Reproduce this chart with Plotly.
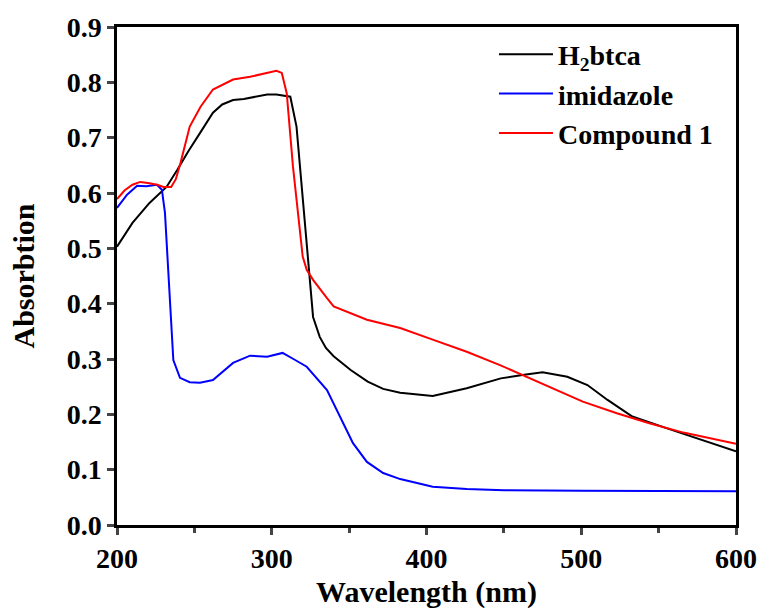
import plotly.graph_objects as go

# H2btca (black)
wl_h2btca = [200, 210, 221, 232, 239, 246, 254, 262, 268, 275, 282, 290, 297, 303, 309, 312, 316, 320, 323.5,
             326.7, 331, 335, 340, 351, 362, 372, 383, 404, 426, 448, 462, 475, 491, 504, 517, 533, 555, 577, 600]
abs_h2btca = [0.503, 0.546, 0.582, 0.611, 0.642, 0.675, 0.71, 0.745, 0.76, 0.768, 0.77, 0.775, 0.778, 0.778, 0.775,
              0.774, 0.72, 0.588, 0.467, 0.376, 0.34, 0.32, 0.305, 0.28, 0.259, 0.246, 0.239, 0.233, 0.247, 0.265,
              0.271, 0.276, 0.268, 0.253, 0.226, 0.196, 0.175, 0.154, 0.133]

# imidazole (blue)
wl_imid = [200, 206.5, 213, 219, 225.8, 229, 231, 233, 234.2, 236.4, 240.7, 247, 253.6, 262, 275, 286, 297, 307,
           314, 322.6, 335.7, 344, 352.5, 361.5, 372, 383, 404, 426, 450, 500, 550, 600]
abs_imid = [0.573, 0.597, 0.613, 0.612, 0.615, 0.606, 0.564, 0.467, 0.39, 0.298, 0.266, 0.258, 0.257, 0.262, 0.293,
            0.306, 0.304, 0.311, 0.30, 0.286, 0.244, 0.196, 0.148, 0.114, 0.094, 0.083, 0.069, 0.065, 0.063, 0.062,
            0.061, 0.061]

# Compound 1 (red)
wl_comp = [200, 205, 210, 215, 220, 226, 230, 235, 238, 241, 247, 254, 262, 275, 286, 297, 303, 306.5, 309.7,
           313.7, 318, 320, 322.6, 326.7, 335.7, 340, 361.5, 383, 404, 426, 447.5, 462, 480, 501, 523, 544, 566, 600]
abs_comp = [0.589, 0.605, 0.615, 0.62, 0.618, 0.615, 0.611, 0.611, 0.625, 0.654, 0.72, 0.756, 0.787, 0.805, 0.81,
            0.817, 0.821, 0.817, 0.78, 0.648, 0.528, 0.485, 0.461, 0.443, 0.41, 0.395, 0.371, 0.356, 0.335, 0.313,
            0.289, 0.271, 0.248, 0.223, 0.202, 0.184, 0.167, 0.147]

series_names = ["<b>H<sub>2</sub>btca</b>", "<b>imidazole</b>", "<b>Compound 1</b>"]
x_ticks = [200, 300, 400, 500, 600]
y_ticks = [0.0, 0.1, 0.2, 0.3, 0.4, 0.5, 0.6, 0.7, 0.8, 0.9]

FONT = "Liberation Serif"

fig = go.Figure()
fig.add_trace(go.Scatter(x=wl_h2btca, y=abs_h2btca, mode="lines", name=series_names[0],
                         line=dict(color="#000000", width=2), legendgroup="a"))
fig.add_trace(go.Scatter(x=wl_imid, y=abs_imid, mode="lines", name=series_names[1],
                         line=dict(color="#0000ff", width=2), legendgroup="b"))
fig.add_trace(go.Scatter(x=wl_comp, y=abs_comp, mode="lines", name=series_names[2],
                         line=dict(color="#ff0000", width=2), legendgroup="c"))

fig.update_layout(
    width=762, height=616,
    margin=dict(l=117, r=26, t=27, b=91),
    paper_bgcolor="white", plot_bgcolor="white",
    font=dict(family=FONT, size=28, color="black"),
    showlegend=True,
    legend=dict(x=0.609, y=0.995, xanchor="left", yanchor="top", bgcolor="rgba(0,0,0,0)",
                font=dict(family=FONT, size=28, color="black"), tracegroupgap=0,
                itemwidth=54),
)
fig.update_xaxes(range=[200, 600], tickvals=x_ticks, ticktext=[f"<b>{v}</b>" for v in x_ticks],
                 ticks="outside", ticklen=7, tickwidth=2.5, automargin=False, ticklabeloverflow="allow",
                 showline=True, linewidth=2.5, linecolor="black", mirror=True, showgrid=False, zeroline=False,
                 tickfont=dict(family=FONT, size=28, color="black"),
                 minor=dict(ticks="outside", ticklen=5, tickwidth=2.5, dtick=50, tick0=200),
                 title=dict(text="<b>Wavelength (nm)</b>", font=dict(family=FONT, size=30), standoff=8))
fig.update_yaxes(range=[0, 0.9], tickvals=y_ticks, ticktext=[f"<b>{v:.1f}</b>" for v in y_ticks],
                 ticks="outside", ticklen=7, tickwidth=2.5, automargin=False, ticklabeloverflow="allow",
                 showline=True, linewidth=2.5, linecolor="black", mirror=True, showgrid=False, zeroline=False,
                 tickfont=dict(family=FONT, size=28, color="black"),
                 title=dict(text="<b>Absorbtion</b>", font=dict(family=FONT, size=30), standoff=24))

# remove the default 8px page margin so the 762x616 figure fills the window exactly
fig.write_html("out.html", config={"displayModeBar": False},
               post_script="document.body.style.margin='0';document.body.style.overflow='hidden';")
